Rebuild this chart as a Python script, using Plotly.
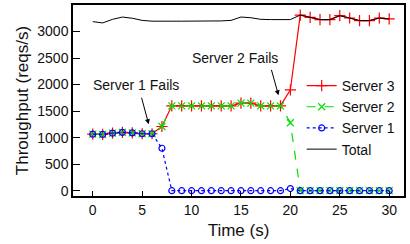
import plotly.graph_objects as go

time_s = list(range(31))
server1 = [1065, 1060, 1085, 1100, 1090, 1073, 1073, 800,
           0, 0, 0, 0, 0, 0, 0, 0, 0, 0, 0, 0, 40,
           0, 0, 0, 0, 0, 0, 0, 0, 0, 0]
server2 = [1065, 1060, 1085, 1100, 1090, 1073, 1073, 1210,
           1600, 1600, 1600, 1600, 1600, 1600, 1600, 1650, 1650, 1600, 1600, 1600, 1280,
           0, 0, 0, 0, 0, 0, 0, 0, 0, 0]
server3 = [1065, 1060, 1085, 1100, 1090, 1073, 1073, 1210,
           1600, 1600, 1600, 1600, 1600, 1600, 1600, 1650, 1650, 1600, 1600, 1600, 1900,
           3310, 3268, 3225, 3225, 3299, 3255, 3206, 3206, 3255, 3237]
total = [3187, 3162, 3230, 3273, 3250, 3210, 3195, 3190, 3195, 3195, 3195, 3195,
         3200, 3200, 3210, 3273, 3260, 3230, 3225, 3225, 3225,
         3310, 3268, 3225, 3225, 3299, 3255, 3206, 3206, 3255, 3237]

FONT = "Liberation Sans, Arial, sans-serif"

fig = go.Figure()
fig.add_trace(go.Scatter(x=time_s, y=server3, name="Server 3", mode="lines+markers",
                         line=dict(color="#ff0000", width=1.2),
                         marker=dict(symbol="cross-thin", size=8, line=dict(color="#ff0000", width=1.2))))
fig.add_trace(go.Scatter(x=time_s, y=server2, name="Server 2", mode="lines+markers",
                         line=dict(color="#00e000", width=1.2, dash="dash"),
                         marker=dict(symbol="x-thin", size=7, line=dict(color="#00e000", width=1.2))))
fig.add_trace(go.Scatter(x=time_s, y=server1, name="Server 1", mode="lines+markers",
                         line=dict(color="#0000ff", width=1.2, dash="dot"),
                         marker=dict(symbol="circle-open", size=6, line=dict(color="#0000ff", width=1.2))))
fig.add_trace(go.Scatter(x=time_s, y=total, name="Total", mode="lines",
                         line=dict(color="#000000", width=1)))

fig.add_annotation(x=5.66, y=1253, ax=4.9, ay=1780, axref="x", ayref="y",
                   text="", showarrow=True, arrowhead=2, arrowsize=1, arrowwidth=1, arrowcolor="black")
fig.add_annotation(x=4.4, y=1998, text="Server 1 Fails", showarrow=False,
                   font=dict(family=FONT, size=14, color="#111111"))
fig.add_annotation(x=18.8, y=1798, ax=18.04, ay=2306, axref="x", ayref="y",
                   text="", showarrow=True, arrowhead=2, arrowsize=1, arrowwidth=1, arrowcolor="black")
fig.add_annotation(x=14.4, y=2505, text="Server 2 Fails", showarrow=False,
                   font=dict(family=FONT, size=14, color="#111111"))

fig.update_layout(
    width=410, height=244,
    margin=dict(l=73, r=6, t=3, b=48),
    paper_bgcolor="white", plot_bgcolor="white",
    font=dict(family=FONT, size=14, color="#111111"),
    showlegend=True,
    legend=dict(x=0.99, xanchor="right", y=0.66, yanchor="top",
                bgcolor="rgba(0,0,0,0)", font=dict(size=14),
                tracegroupgap=0, itemwidth=30),
)
fig.update_xaxes(range=[-2, 31.5], tickvals=[0, 5, 10, 15, 20, 25, 30],
                 ticks="inside", ticklen=5, tickcolor="black",
                 showgrid=False, zeroline=False, showline=True, linecolor="black",
                 linewidth=1.5, mirror=True,
                 title=dict(text="Time (s)", standoff=8))
fig.update_yaxes(range=[-100, 3500], tickvals=[0, 500, 1000, 1500, 2000, 2500, 3000],
                 ticks="inside", ticklen=7, tickcolor="black",
                 showgrid=False, zeroline=False, showline=True, linecolor="black",
                 linewidth=1.5, mirror=True,
                 title=dict(text="Throughput (reqs/s)", standoff=4))

fig.write_html("out.html", config={"displayModeBar": False},
               post_script="document.body.style.margin='0px';")
